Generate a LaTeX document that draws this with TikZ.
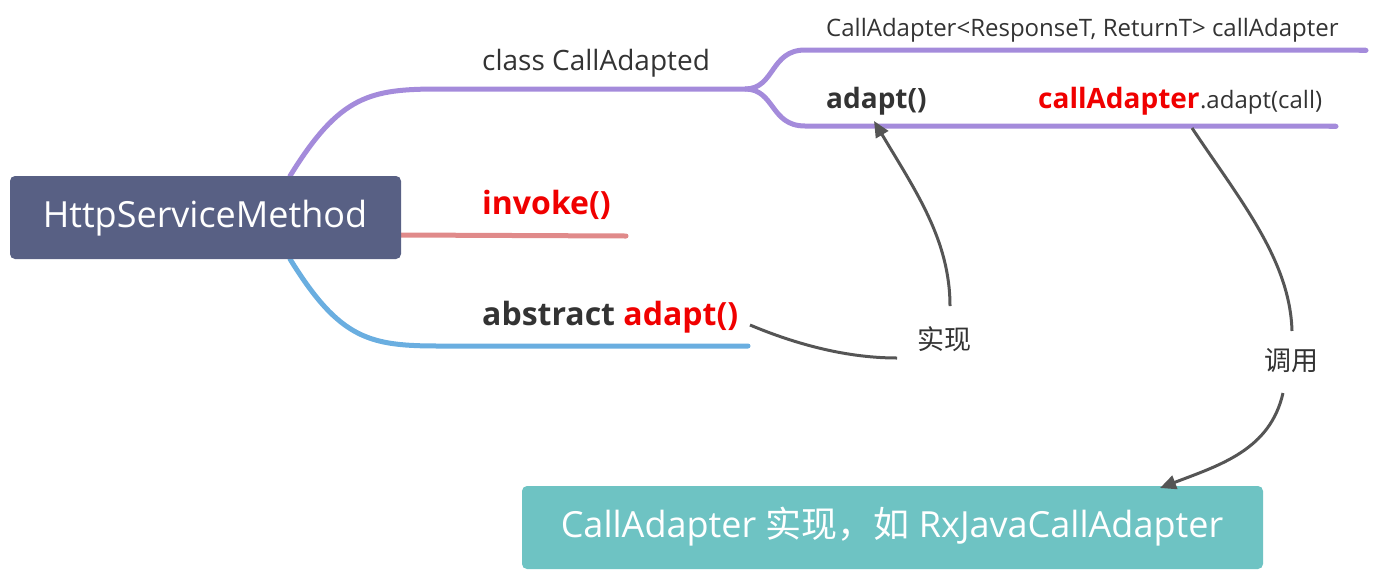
\documentclass[tikz,border=0pt]{standalone}
\usepackage{fontspec}
\setmainfont{Open Sans}
\newfontfamily\cjk{Noto Sans CJK SC}
\usetikzlibrary{arrows.meta}
\definecolor{rootfill}{HTML}{586084}
\definecolor{tealfill}{HTML}{6EC3C3}
\definecolor{purp}{HTML}{A48BDB}
\definecolor{pinkred}{HTML}{E08A8A}
\definecolor{bluel}{HTML}{6AAEE0}
\definecolor{txt}{HTML}{333333}
\definecolor{redt}{HTML}{F00000}
\definecolor{arr}{HTML}{555555}
\tikzset{
  fs/.style={font=\fontsize{#1}{#1}\selectfont},
  fsb/.style={font=\bfseries\fontsize{#1}{#1}\selectfont},
  fsc/.style={font=\cjk\fontsize{#1}{#1}\selectfont},
  branch/.style={line width=5pt, line cap=round},
  lbl/.style={anchor=base west, inner sep=0pt, text=txt},
  conn/.style={draw=arr, line width=3pt},
  arrowc/.style={conn, -{Triangle[length=16pt,width=14pt]}},
}
\begin{document}
\begin{tikzpicture}[x=1pt,y=-1pt]
\useasboundingbox (0,0) rectangle (1376,574);
% branches
\coordinate (rtop) at (290,176);
\coordinate (rbot) at (290,259);
\coordinate (fork) at (745,89);
\coordinate (upend) at (1366,50);
\coordinate (loend) at (1336,126);
\coordinate (pinkend) at (626,236);
\coordinate (blueend) at (748,346);
\draw[branch, draw=purp] (rtop) .. controls (340,95) and (370,89) .. (440,89) -- (fork);
\draw[branch, draw=purp, line cap=butt] (fork) .. controls (775,89) and (770,50) .. (805,50) -- (upend);
\draw[branch, draw=purp, line cap=butt] (fork) .. controls (775,89) and (770,126) .. (805,126) -- (loend);
\draw[branch, draw=purp] (1360,50) -- (upend);
\draw[branch, draw=purp] (1330,126) -- (loend);
\draw[branch, draw=pinkred] (401,235) -- (pinkend);
\draw[branch, draw=bluel] (rbot) .. controls (340,340) and (370,346) .. (440,346) -- (blueend);
% root node
\fill[rootfill, rounded corners=5pt] (10,176) rectangle (401,259);
\node[text=white, fs=36, inner sep=0pt] (root) at (205,218) {HttpServiceMethod};
% bottom node
\fill[tealfill, rounded corners=5pt] (522,486) rectangle (1263,569);
\node[text=white, fs=36, inner sep=0pt] (impl) at (892,527) {CallAdapter {\cjk 实现，如} RxJavaCallAdapter};
% labels
\node[lbl, fs=28] (cls) at (482,70) {class CallAdapted};
\node[lbl, fs=24] (field) at (826,36) {CallAdapter<ResponseT, ReturnT> callAdapter};
\node[lbl, fsb=28] (adaptm) at (826,108) {adapt()};
\node[lbl, fsb=28, text=redt] (cad) at (1038,108) {callAdapter};
\node[lbl, fs=24, anchor=base west] (cadr) at (cad.base east) {.adapt(call)};
\node[lbl, fsb=32, text=redt] (inv) at (482,214) {invoke()};
\node[lbl, fsb=32] (abs) at (482,325) {abstract \textcolor{redt}{adapt()}};
\node[text=txt, inner sep=0pt, fsc=27] (shixian) at (944,339) {实现};
\node[text=txt, inner sep=0pt, fsc=27] (diaoyong) at (1291,361) {调用};
% connectors
\coordinate (a1s) at (750,325);
\coordinate (a1e) at (897,358);
\coordinate (a2s) at (950,306);
\coordinate (a2e) at (874,121);
\coordinate (a3s) at (1192,128);
\coordinate (a3e) at (1292,331);
\coordinate (a4s) at (1283,393);
\coordinate (a4e) at (1160,488);
\draw[conn] (a1s) .. controls (800,346) and (850,358) .. (a1e);
\draw[arrowc] (a2s) .. controls (950,240) and (915,190) .. (a2e);
\draw[conn] (a3s) .. controls (1240,200) and (1290,260) .. (a3e);
\draw[arrowc] (a4s) .. controls (1270,450) and (1220,465) .. (a4e);
\end{tikzpicture}
\end{document}
